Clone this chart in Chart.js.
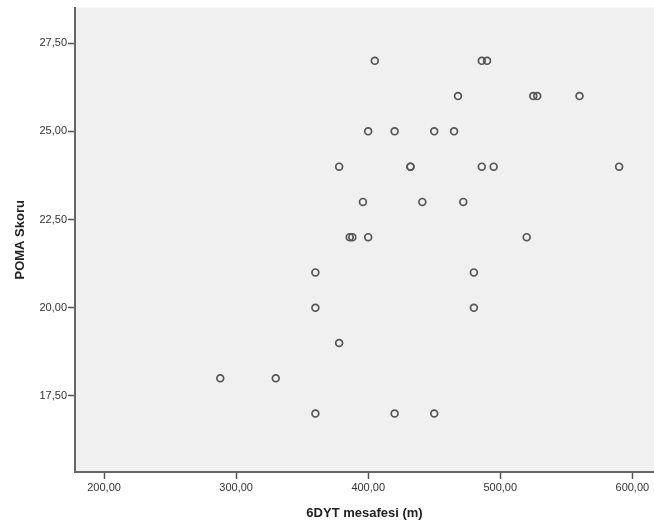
<!DOCTYPE html>
<html>
<head>
<meta charset="utf-8">
<script src="https://cdn.jsdelivr.net/npm/chart.js@4"></script>
<style>
  body { margin: 0; background: #fff; }
  canvas { display: block; }
</style>
</head>
<body>
<canvas id="chart" width="654" height="523"></canvas>
<script>
// 6DYT distance (m) and POMA score per patient
const distance = [
  405, 486, 490,
  468, 525, 528, 560,
  400, 420, 450, 465,
  378, 432, 432, 486, 495, 590,
  396, 441, 472,
  386, 388, 400, 520,
  360, 480,
  360, 480,
  378,
  288, 330,
  360, 420, 450
];
const poma = [
  27, 27, 27,
  26, 26, 26, 26,
  25, 25, 25, 25,
  24, 24, 24, 24, 24, 24,
  23, 23, 23,
  22, 22, 22, 22,
  21, 21,
  20, 20,
  19,
  18, 18,
  17, 17, 17
];
const xTicks = [200, 300, 400, 500, 600];
const yTicks = [17.5, 20, 22.5, 25, 27.5];

const points = distance.map((d, i) => ({x: d, y: poma[i]}));

function fmt(v) {
  return v.toFixed(2).replace('.', ',');
}

const plotBg = {
  id: 'plotBg',
  beforeDraw(chart) {
    const a = chart.chartArea;
    const ctx = chart.ctx;
    ctx.save();
    ctx.fillStyle = '#f0f0f0';
    ctx.fillRect(a.left, a.top, a.right - a.left, a.bottom - a.top);
    ctx.restore();
  }
};

const tickFont = {family: 'Arial, "Liberation Sans", sans-serif', size: 11};
const titleFont = {family: 'Arial, "Liberation Sans", sans-serif', size: 13, weight: 'bold'};

new Chart(document.getElementById('chart'), {
  type: 'scatter',
  data: {
    datasets: [{
      data: points,
      pointRadius: 3.4,
      pointHoverRadius: 3.4,
      pointBorderWidth: 1.7,
      pointBorderColor: '#555',
      pointBackgroundColor: 'rgba(0,0,0,0)'
    }]
  },
  options: {
    responsive: false,
    animation: false,
    layout: {autoPadding: false, padding: {top: 7, right: 0, left: 0, bottom: 0}},
    plugins: {
      legend: {display: false},
      tooltip: {enabled: false}
    },
    scales: {
      x: {
        type: 'linear',
        min: 178,
        max: 616.4,
        afterBuildTicks: (s) => { s.ticks = xTicks.map(v => ({value: v})); },
        afterFit: (s) => { s.height = 51; },
        grid: {drawOnChartArea: false, tickLength: 7, tickColor: '#555', tickWidth: 1.5},
        border: {color: '#666', width: 2},
        ticks: {color: '#333', font: tickFont, padding: 2, maxRotation: 0, callback: fmt},
        title: {display: true, text: '6DYT mesafesi (m)', color: '#222', font: titleFont, padding: {top: 0, bottom: 2}}
      },
      y: {
        type: 'linear',
        min: 15.34,
        max: 28.51,
        afterBuildTicks: (s) => { s.ticks = yTicks.map(v => ({value: v})); },
        afterFit: (s) => { s.width = 75; },
        grid: {drawOnChartArea: false, tickLength: 7, tickColor: '#555', tickWidth: 1.5},
        border: {color: '#666', width: 2},
        ticks: {color: '#333', font: tickFont, padding: 1, callback: fmt},
        title: {display: true, text: 'POMA Skoru', color: '#222', font: titleFont, padding: {top: 13, bottom: 0}}
      }
    }
  },
  plugins: [plotBg]
});
</script>
</body>
</html>
